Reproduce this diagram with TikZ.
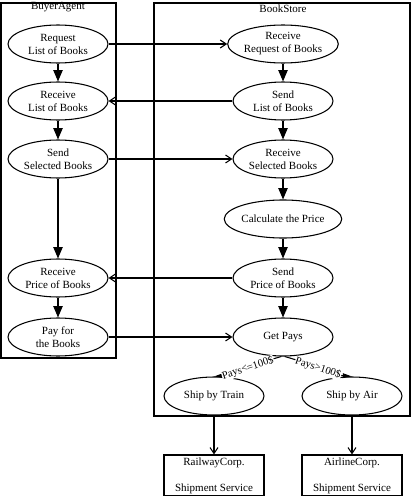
\documentclass[tikz,border=0pt]{standalone}
\usepackage{fontspec}
\setmainfont{Liberation Serif}
\usetikzlibrary{shapes.geometric,arrows.meta}

\begin{document}
\begin{tikzpicture}[x=0.75pt,y=0.75pt,yscale=-1,xscale=1,
  line width=0.8pt,
  activity/.style={draw,ellipse,minimum width=75pt,minimum height=28.5pt,inner sep=0pt,align=center,font=\fontsize{8.25}{9.75}\selectfont},
  service/.style={draw,rectangle,minimum width=75pt,minimum height=30.75pt,inner sep=0pt,align=center,font=\fontsize{8.25}{9.75}\selectfont},
  lanetitle/.style={anchor=base,inner sep=0.75pt,font=\fontsize{8.25}{9.75}\selectfont},
  flow/.style={-{Triangle[length=8.5pt,width=7pt]}},
  msg/.style={-{Straight Barb[length=4.5pt,width=6pt]}},
  cond/.style={-{Triangle[length=7pt,width=3.5pt]}},
  condlabel/.style={fill=white,inner sep=0.3pt,font=\fontsize{8}{9}\selectfont}]

\useasboundingbox (0,0) rectangle (412,496);

% swimlanes
\draw (1,3) rectangle (116,358);
\draw (154,3) rectangle (410,416);
\node[lanetitle] (buyertitle) at (58,9) {BuyerAgent};
\node[lanetitle] (storetitle) at (283,12.5) {BookStore};

% BuyerAgent
\node[activity] (reqlist) at (58,44) {Request\\List of Books};
\node[activity] (rcvlist) at (58,101) {Receive\\List of Books};
\node[activity] (sndsel) at (58,159) {Send\\Selected Books};
\node[activity] (rcvprice) at (58,278) {Receive\\Price of Books};
\node[activity] (payfor) at (58,337) {Pay for\\the Books};

% BookStore
\node[activity] (rcvreq) at (283,44) {Receive\\Request of Books};
\node[activity] (sndlist) at (283,101) {Send\\List of Books};
\node[activity] (rcvsel) at (283,159) {Receive\\Selected Books};
\node[activity] (calc) at (283,219) {Calculate the Price};
\node[activity] (sndprice) at (283,278) {Send\\Price of Books};
\node[activity] (getpays) at (283,337) {Get Pays};
\node[activity] (train) at (214,396) {Ship by Train};
\node[activity] (air) at (352,396) {Ship by Air};

% services
\node[service] (railway) at (214,475.5) {RailwayCorp.\\~\\Shipment Service};
\node[service] (airline) at (352,475.5) {AirlineCorp.\\~\\Shipment Service};

% control flow
\draw[flow] (reqlist) -- (rcvlist);
\draw[flow] (rcvlist) -- (sndsel);
\draw[flow] (sndsel) -- (rcvprice);
\draw[flow] (rcvprice) -- (payfor);
\draw[flow] (rcvreq) -- (sndlist);
\draw[flow] (sndlist) -- (rcvsel);
\draw[flow] (rcvsel) -- (calc);
\draw[flow] (calc) -- (sndprice);
\draw[flow] (sndprice) -- (getpays);

% messages
\draw[msg] (reqlist) -- (rcvreq);
\draw[msg] (sndlist) -- (rcvlist);
\draw[msg] (sndsel) -- (rcvsel);
\draw[msg] (sndprice) -- (rcvprice);
\draw[msg] (payfor) -- (getpays);
\draw[msg] (train) -- (railway);
\draw[msg] (air) -- (airline);

% conditions
\draw[cond] (getpays.-95) to[out=165,in=-5] node[condlabel,rotate=18] {Pays<=100\$} (train.north);
\draw[cond] (getpays.-85) to[out=15,in=185] node[condlabel,rotate=-18] {Pays>100\$} (air.north);

\end{tikzpicture}
\end{document}
